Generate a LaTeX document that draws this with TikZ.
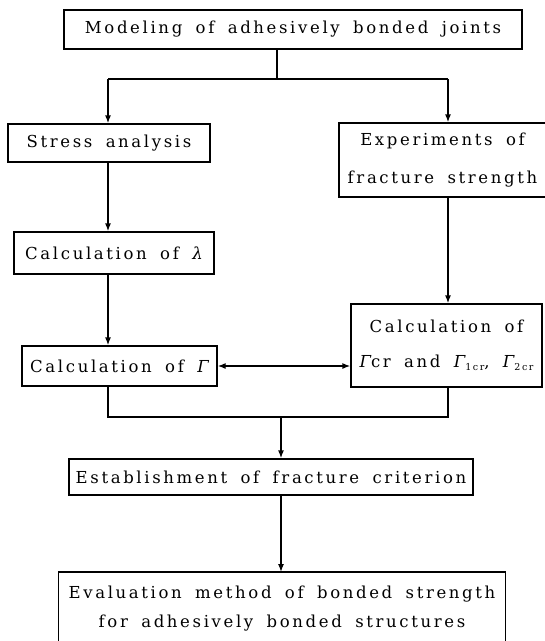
\documentclass[tikz,border=0pt]{standalone}
\usepackage{fontspec}
\setmainfont[LetterSpace=16,WordSpace=1.7]{DejaVu Serif}
\usetikzlibrary{arrows.meta}
\begin{document}
\begin{tikzpicture}[x=1pt,y=-1pt,
  font=\fontsize{16.5}{20}\selectfont,
  box/.style={draw, line width=1.3pt, inner sep=0pt, align=center},
  arr/.style={line width=1.3pt, -{Latex[length=8pt,width=6pt]}},
  dbl/.style={line width=1.3pt, {Latex[length=8pt,width=6pt]}-{Latex[length=8pt,width=6pt]}},
  ln/.style={line width=1.3pt}]
\newcommand{\subcr}[1]{\raisebox{-2.5pt}{\fontsize{9.5}{10}\selectfont #1}}
\useasboundingbox (0,0) rectangle (545,641);
% boxes
\node[box, minimum width=458pt, minimum height=39pt] (top) at (293,29.5) {Modeling of adhesively bonded joints};
\node[box, minimum width=202pt, minimum height=38pt] (sa) at (109,143) {Stress analysis};
\node[box, minimum width=207pt, minimum height=74pt] (ex) at (442.5,160) {Experiments of\\[18pt]fracture strength};
\node[box, minimum width=200pt, minimum height=42pt] (lam) at (114,253) {Calculation of {\itshape λ}};
\node[box, minimum width=195pt, minimum height=40pt] (gam) at (119.5,366) {Calculation of {\itshape Γ}};
\node[box, minimum width=191pt, minimum height=83pt] (gcr) at (446.5,345.5) {Calculation of\\[15pt]{\itshape Γ}cr and {\itshape Γ}\subcr{1cr}, {\itshape Γ}\subcr{2cr}};
\node[box, minimum width=404pt, minimum height=36pt] (crit) at (271,477) {Establishment of fracture criterion};
\node[inner sep=0pt, minimum width=446pt, align=center, anchor=north] (bot) at (282,572) {\rule{0pt}{26pt}Evaluation method of bonded strength\\[9pt]for adhesively bonded structures\\[40pt]\strut};
\draw[ln] (bot.south west) -- (bot.north west) -- (bot.north east) -- (bot.south east);
% junction coordinates
\coordinate (bc) at (277,79);
\coordinate (bl) at (108,79);
\coordinate (br) at (448,79);
\coordinate (jl) at (108,417);
\coordinate (jr) at (448,417);
\coordinate (jc) at (281,417);
% connectors
\draw[ln] (top.south -| bc) -- (bc);
\draw[ln] (bl) -- (br);
\draw[arr] (bl) -- (bl |- sa.north);
\draw[arr] (br) -- (br |- ex.north);
\draw[arr] (sa.south -| bl) -- (bl |- lam.north);
\draw[arr] (lam.south -| bl) -- (bl |- gam.north);
\draw[arr] (ex.south -| br) -- (br |- gcr.north);
\draw[dbl] (gam.east) -- (gam.east -| gcr.west);
\draw[ln] (gam.south -| jl) -- (jl) -- (jr) -- (gcr.south -| jr);
\draw[arr] (jc) -- (jc |- crit.north);
\draw[arr] (crit.south -| jc) -- (jc |- bot.north);
\end{tikzpicture}
\end{document}
